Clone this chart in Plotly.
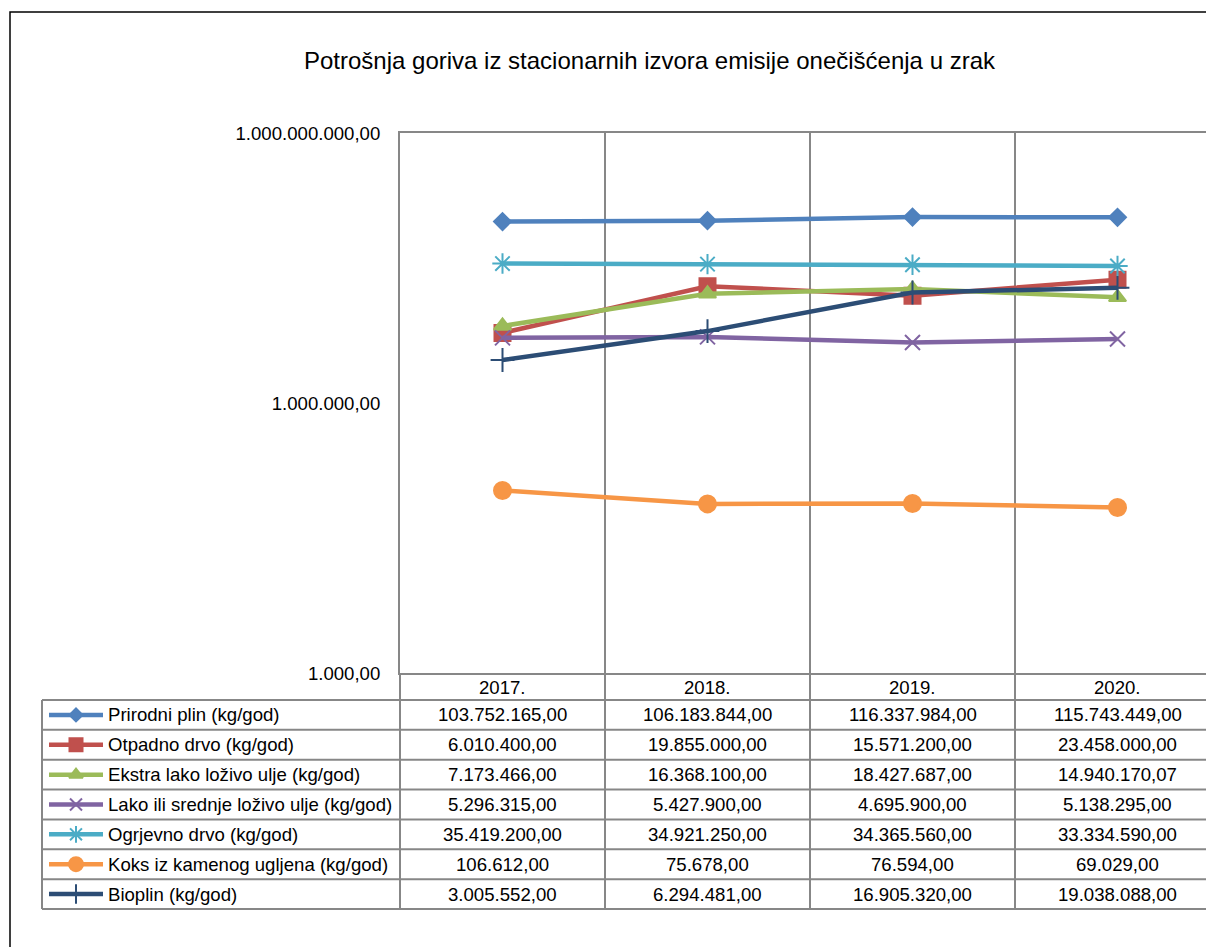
import plotly.graph_objects as go

W, H = 1206, 947

title = "Potrošnja goriva iz stacionarnih izvora emisije onečišćenja u zrak"
years = ["2017.", "2018.", "2019.", "2020."]

series_names = [
    "Prirodni plin (kg/god)",
    "Otpadno drvo (kg/god)",
    "Ekstra lako loživo ulje (kg/god)",
    "Lako ili srednje loživo ulje (kg/god)",
    "Ogrjevno drvo (kg/god)",
    "Koks iz kamenog ugljena (kg/god)",
    "Bioplin (kg/god)",
]
prirodni_plin = [103752165.00, 106183844.00, 116337984.00, 115743449.00]
otpadno_drvo = [6010400.00, 19855000.00, 15571200.00, 23458000.00]
ekstra_lako_ulje = [7173466.00, 16368100.00, 18427687.00, 14940170.07]
lako_srednje_ulje = [5296315.00, 5427900.00, 4695900.00, 5138295.00]
ogrjevno_drvo = [35419200.00, 34921250.00, 34365560.00, 33334590.00]
koks = [106612.00, 75678.00, 76594.00, 69029.00]
bioplin = [3005552.00, 6294481.00, 16905320.00, 19038088.00]
series_values = [prirodni_plin, otpadno_drvo, ekstra_lako_ulje, lako_srednje_ulje,
                 ogrjevno_drvo, koks, bioplin]

y_ticks = [1e3, 1e6, 1e9]

colors = ["#4F81BD", "#C0504D", "#9BBB59", "#8064A2", "#4BACC6", "#F79646", "#2C4D75"]
symbols = ["diamond", "square", "triangle-up", "x-thin-open", "asterisk-open",
           "circle", "cross-thin-open"]
msizes = [13, 16, 15, 15, 17, 17, 17]

FONT = "Liberation Sans, Arial, sans-serif"
GRID = "#878787"


def fmt(v):
    s = f"{v:,.2f}"
    return s.replace(",", "X").replace(".", ",").replace("X", ".")


# pixel layout of the chart
plot_l, plot_t, plot_b = 400, 133, 673
col_w = 205
table_l = 42
row_top = 700
row_h = (909 - 700) / 7

fig = go.Figure()

for name, vals, c, sym, ms in zip(series_names, series_values, colors, symbols, msizes):
    fig.add_trace(go.Scatter(
        x=years, y=vals, mode="lines+markers", name=name,
        line=dict(color=c, width=4.5),
        marker=dict(symbol=sym, size=ms, color=c, opacity=1, line=dict(color=c, width=2)),
        xaxis="x", yaxis="y", showlegend=False, cliponaxis=False,
    ))

# legend keys in table rows (overlay pixel axis)
for i, (c, sym, ms) in enumerate(zip(colors, symbols, msizes)):
    yc = row_top + row_h * (i + 0.5)
    fig.add_trace(go.Scatter(
        x=[49, 76, 103], y=[yc, yc, yc], mode="lines+markers",
        line=dict(color=c, width=4.5),
        marker=dict(symbol=sym, size=[0, ms - 3, 0], color=c, opacity=1,
                    line=dict(color=c, width=2)),
        xaxis="x2", yaxis="y2", showlegend=False, hoverinfo="skip",
    ))

shapes = []
line = dict(color=GRID, width=2)
# horizontal table lines
for i in range(8):
    y = row_top + row_h * i
    shapes.append(dict(type="line", xref="x2", yref="y2", x0=table_l, x1=1230,
                       y0=y, y1=y, line=line))
# vertical table lines
shapes.append(dict(type="line", xref="x2", yref="y2", x0=table_l, x1=table_l,
                   y0=row_top, y1=909, line=line))
for k in range(5):
    x = plot_l + col_w * k
    shapes.append(dict(type="line", xref="x2", yref="y2", x0=x, x1=x,
                       y0=plot_b, y1=909, line=line))
# chart outer border
shapes.append(dict(type="rect", xref="x2", yref="y2", x0=10, x1=1240, y0=12, y1=990,
                   line=dict(color="black", width=1.5)))

TXT = dict(size=18.6, family=FONT, color="black")
annotations = [dict(text=title, xref="x2", yref="y2", x=650, y=60, showarrow=False,
                    font=dict(size=24, family=FONT, color="black"))]
for j, y_lbl in enumerate(years):
    annotations.append(dict(text=y_lbl, xref="x", yref="y2", x=j, y=687,
                            showarrow=False, font=TXT))
for i, (name, vals) in enumerate(zip(series_names, series_values)):
    yc = row_top + row_h * (i + 0.5)
    annotations.append(dict(text=name, xref="x2", yref="y2", x=106, y=yc, xanchor="left",
                            showarrow=False, font=TXT))
    for j, v in enumerate(vals):
        annotations.append(dict(text=fmt(v), xref="x", yref="y2", x=j, y=yc,
                                showarrow=False, font=TXT))

fig.update_layout(
    width=W, height=H, autosize=False,
    margin=dict(l=0, r=0, t=0, b=0, pad=0, autoexpand=False),
    paper_bgcolor="white", plot_bgcolor="rgba(0,0,0,0)",
    font=dict(family=FONT, size=19, color="black"),
    xaxis=dict(
        domain=[plot_l / W, 1], type="category", automargin=False,
        range=[-0.5, -0.5 + (W - plot_l) / col_w],
        tickson="boundaries", showgrid=True, gridcolor=GRID, gridwidth=2,
        showline=True, linecolor=GRID, linewidth=2, mirror=True,
        showticklabels=False, ticks="", zeroline=False,
    ),
    yaxis=dict(
        domain=[1 - plot_b / H, 1 - plot_t / H], type="log", automargin=False,
        range=[3, 9], tickvals=y_ticks, ticktext=[fmt(v) for v in y_ticks],
        showgrid=False, showline=True, linecolor=GRID, linewidth=2,
        ticks="", ticklabelstandoff=14, tickfont=TXT,
        zeroline=False,
    ),
    xaxis2=dict(domain=[0, 1], range=[0, W], visible=False, fixedrange=True,
                automargin=False),
    yaxis2=dict(domain=[0, 1], range=[H, 0], visible=False, fixedrange=True,
                automargin=False),
    shapes=shapes,
    annotations=annotations,
)

fig.write_html(
    "out.html",
    config={"displayModeBar": False},
    post_script="document.body.style.margin='0';document.body.style.overflow='hidden';",
)
